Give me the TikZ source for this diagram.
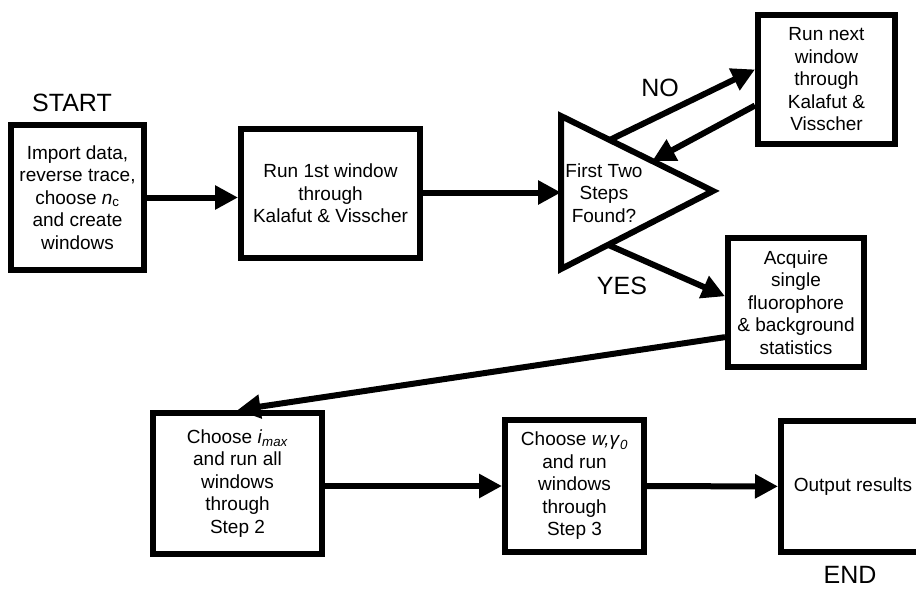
\documentclass[tikz,border=0pt]{standalone}
\usepackage{fontspec}
\setmainfont{Liberation Sans}
\usetikzlibrary{calc,arrows.meta}

\begin{document}
\begin{tikzpicture}[x=1pt,y=-1pt,
    stepbox/.style={draw,line width=6pt,align=center,inner sep=0pt,
        font=\fontsize{19}{22.5}\selectfont},
    flow/.style={line width=6pt,-{Triangle[length=23pt,width=23pt]}},
    tag/.style={font=\fontsize{25}{25}\selectfont}]
    \useasboundingbox (0,0) rectangle (916,589);
    % top row
    \node[stepbox,minimum width=133pt,minimum height=145pt] (imp) at (77.5,197.5)
        {Import data,\\reverse trace,\\choose \textit{n}\textsubscript{c}\\and create\\windows};
    \node[tag] (start) at (72,103) {START};
    \node[stepbox,minimum width=179pt,minimum height=129pt] (run1) at (330.5,193.5)
        {Run 1st window\\through\\Kalafut \& Visscher};
    % decision triangle
    \coordinate (tA) at (561,116);
    \coordinate (tB) at (561,269);
    \coordinate (tC) at (713,191);
    \draw[line width=6pt,line join=miter] (tA) -- (tC) -- (tB) -- cycle;
    \node[align=center,font=\fontsize{19}{22.5}\selectfont] (ask) at (604,193)
        {First Two\\Steps\\Found?};
    \coordinate (tL) at ($(tA)!0.5!(tB)$);
    \coordinate (tN) at ($(tA)!0.32!(tC)$);
    \coordinate (tR) at ($(tA)!0.6!(tC)$);
    \coordinate (tY) at ($(tB)!0.31!(tC)$);
    \node[stepbox,minimum width=137pt,minimum height=129pt] (next) at (826.5,79.5)
        {Run next\\window\\through\\Kalafut \&\\Visscher};
    \node[stepbox,minimum width=136pt,minimum height=129pt] (acq) at (796,302.5)
        {Acquire\\single\\fluorophore\\\& background\\statistics};
    \node[tag] (no) at (660,88) {NO};
    \node[tag] (yes) at (622,286) {YES};
    % bottom row
    \node[stepbox,minimum width=169pt,minimum height=141pt] (imax) at (237.5,483.5)
        {Choose \textit{i}\textsubscript{\textit{max}}\\and run all\\windows\\through\\Step 2};
    \node[stepbox,minimum width=139pt,minimum height=132pt] (wgam) at (574.5,486)
        {Choose \textit{w,γ}\textsubscript{\textit{0}}\\and run\\windows\\through\\Step 3};
    %% right side of this one runs off the page
    \node[stepbox,minimum width=144pt,minimum height=131pt] (out) at (853,486.5)
        {Output results};
    \node[tag] (end) at (850,575) {END};
    % connectors
    \draw[flow] (imp) -- (imp -| run1.west);
    \draw[flow] (run1.east |- tL) -- (tL);
    \draw[flow] (tN) -- (next.172);
    \draw[flow] (next.200) -- (tR);
    \draw[flow] (tY) -- (acq.175);
    \draw[flow] (acq.206.6) -- (imax.north);
    \draw[flow] (wgam -| imax.east) -- (wgam.west);
    \draw[flow] (wgam) -- (out);
\end{tikzpicture}
\end{document}
